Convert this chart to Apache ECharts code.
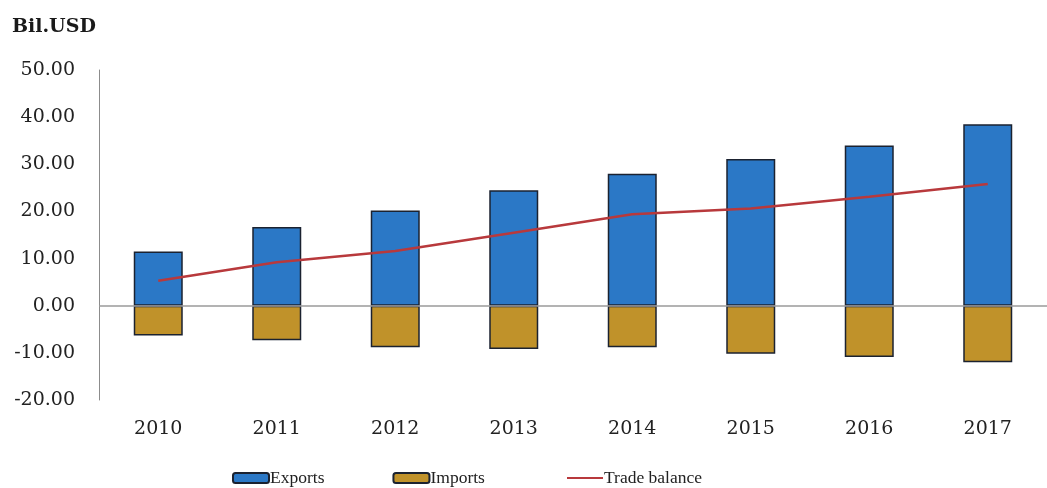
<!DOCTYPE html>
<html>
<head>
<meta charset="utf-8">
<script src="https://cdn.jsdelivr.net/npm/echarts@6/dist/echarts.min.js"></script>
<style>
  html, body { margin: 0; padding: 0; background: #fff; }
  #main { width: 1047px; height: 488px; }
</style>
</head>
<body>
<div id="main"></div>
<script>
// values, Bil.USD
const years = ['2010', '2011', '2012', '2013', '2014', '2015', '2016', '2017']
const exportsVal = [11.5, 16.7, 20.2, 24.5, 28.0, 31.1, 34.0, 38.5]
const importsVal = [-6.3, -7.3, -8.8, -9.2, -8.8, -10.2, -10.9, -12.0]
const tradeBalance = [5.3, 9.2, 11.6, 15.5, 19.4, 20.6, 23.1, 25.8]

const serif = '"Liberation Serif", "DejaVu Serif", serif'
// wider serif to match the stretched axis text
const wideSerif = '"DejaVu Serif", "Liberation Serif", serif'
const chart = echarts.init(document.getElementById('main'))

chart.setOption({
  animation: false,
  textStyle: { fontFamily: serif },
  title: {
    text: 'Bil.USD',
    left: 12,
    top: 18,
    padding: 0,
    textStyle: { fontFamily: wideSerif, fontSize: 19, fontWeight: 'bold', color: '#1a1a1a' },
  },
  legend: {
    left: 232,
    top: 469,
    padding: 0,
    itemGap: 68,
    itemWidth: 36,
    itemHeight: 10,
    // a bit more room after "Imports", like the original
    formatter: name => (name === 'Imports' ? name + '   ' : name),
    textStyle: { fontFamily: serif, fontSize: 17.5, color: '#222', padding: [0, 0, 0, -4] },
    data: [
      { name: 'Exports', icon: 'roundRect' },
      { name: 'Imports', icon: 'roundRect' },
      { name: 'Trade balance', itemStyle: { opacity: 0 } },
    ],
  },
  grid: {
    left: 99,
    right: -7,
    top: 70,
    bottom: 88,
  },
  xAxis: {
    type: 'category',
    data: years,
    axisLine: { show: false, onZero: false },
    axisTick: { show: false },
    axisLabel: { fontFamily: wideSerif, fontSize: 19, color: '#222', margin: 20 },
  },
  yAxis: {
    type: 'value',
    min: -20,
    max: 50,
    interval: 10,
    splitLine: { show: false },
    axisTick: { show: false },
    axisLine: { show: true, lineStyle: { color: '#8c8c8c', width: 1 } },
    axisLabel: {
      fontFamily: wideSerif,
      fontSize: 19,
      color: '#222',
      margin: 24,
      formatter: v => v.toFixed(2),
    },
  },
  series: [
    {
      name: 'Exports',
      type: 'bar',
      data: exportsVal,
      barWidth: 49,
      barGap: '-100%',
      itemStyle: { color: '#2b78c6', borderColor: '#1b2230', borderWidth: 1.5 },
      markLine: {
        silent: true,
        symbol: 'none',
        label: { show: false },
        lineStyle: { color: '#9a9a9a', type: 'solid', width: 1.5 },
        data: [{ yAxis: 0 }],
      },
      z: 2,
    },
    {
      name: 'Imports',
      type: 'bar',
      data: importsVal,
      barWidth: 49,
      barGap: '-100%',
      itemStyle: { color: '#c0922a', borderColor: '#1b2230', borderWidth: 1.5 },
      z: 2,
    },
    {
      name: 'Trade balance',
      type: 'line',
      data: tradeBalance,
      symbol: 'none',
      lineStyle: { color: '#b8393c', width: 2.5 },
      itemStyle: { color: '#b8393c' },
      z: 5,
    },
  ],
})
</script>
</body>
</html>
